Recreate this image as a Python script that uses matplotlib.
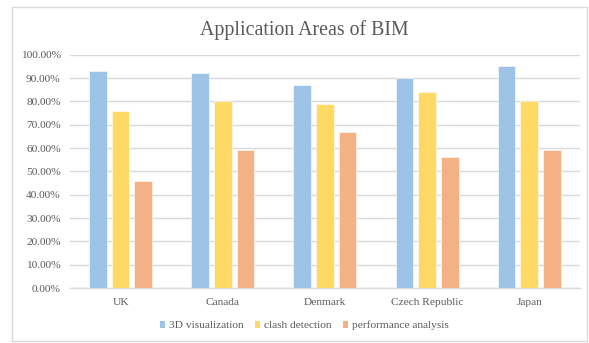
import matplotlib
matplotlib.use("Agg")
import matplotlib.pyplot as plt
from matplotlib.patches import Rectangle
from matplotlib.ticker import FuncFormatter, MultipleLocator
import numpy as np

countries = ["UK", "Canada", "Denmark", "Czech Republic", "Japan"]
series_names = ["3D visualization", "clash detection", "performance analysis"]
visualization = [93, 92, 87, 90, 95]
clash_detection = [76, 80, 79, 84, 80]
performance_analysis = [46, 59, 67, 56, 59]

colors = ["#9DC3E6", "#FFD966", "#F4B183"]
text_color = "#595959"
grid_color = "#D9D9D9"

plt.rcParams["font.family"] = ["Liberation Serif", "DejaVu Serif"]

W, H, DPI = 589, 343, 100
fig = plt.figure(figsize=(W / DPI, H / DPI), dpi=DPI)
fig.patch.set_facecolor("white")

# chart frame
fig.add_artist(Rectangle((12 / W, 1 - 341 / H), (587 - 12) / W, (341 - 7) / H,
                         transform=fig.transFigure, fill=False,
                         edgecolor=grid_color, linewidth=1.0))

left, right, top, bottom = 69.5, 580.3, 54.7, 288.0
ax = fig.add_axes([left / W, 1 - bottom / H, (right - left) / W, (bottom - top) / H])

x = np.arange(len(countries))
width = 0.173
step = 0.222
for i, (vals, name) in enumerate(zip([visualization, clash_detection, performance_analysis], series_names)):
    ax.bar(x + (i - 1) * step, vals, width, color=colors[i], label=name,
           edgecolor="white", linewidth=0.4, zorder=3)

ax.set_xlim(-0.5, len(countries) - 0.5)
ax.set_ylim(0, 100)
ax.yaxis.set_major_locator(MultipleLocator(10))
ax.yaxis.set_major_formatter(FuncFormatter(lambda v, p: f"{v:.2f}%"))
ax.set_xticks(x)
ax.set_xticklabels(countries)
ax.grid(axis="y", color=grid_color, linewidth=1.0, zorder=0)
for s in ["top", "right", "left"]:
    ax.spines[s].set_visible(False)
ax.spines["bottom"].set_color(grid_color)
ax.spines["bottom"].set_linewidth(1.0)
ax.tick_params(axis="both", length=0, labelsize=8.2, colors=text_color)
ax.tick_params(axis="y", pad=6.3)
ax.tick_params(axis="x", pad=7.5)

fig.text(304 / W, 1 - 30.5 / H, "Application Areas of BIM", ha="center", va="center",
         fontsize=14.3, color=text_color)

leg = fig.legend(loc="center", bbox_to_anchor=(304 / W, 1 - 325.5 / H), ncol=3,
                 frameon=False, fontsize=8.2, handlelength=0.5, handleheight=0.5,
                 handletextpad=0.3, columnspacing=1.0, labelcolor=text_color)
for h in leg.legend_handles:
    h.set_edgecolor("none")

fig.savefig("out.png", dpi=DPI, facecolor="white")
